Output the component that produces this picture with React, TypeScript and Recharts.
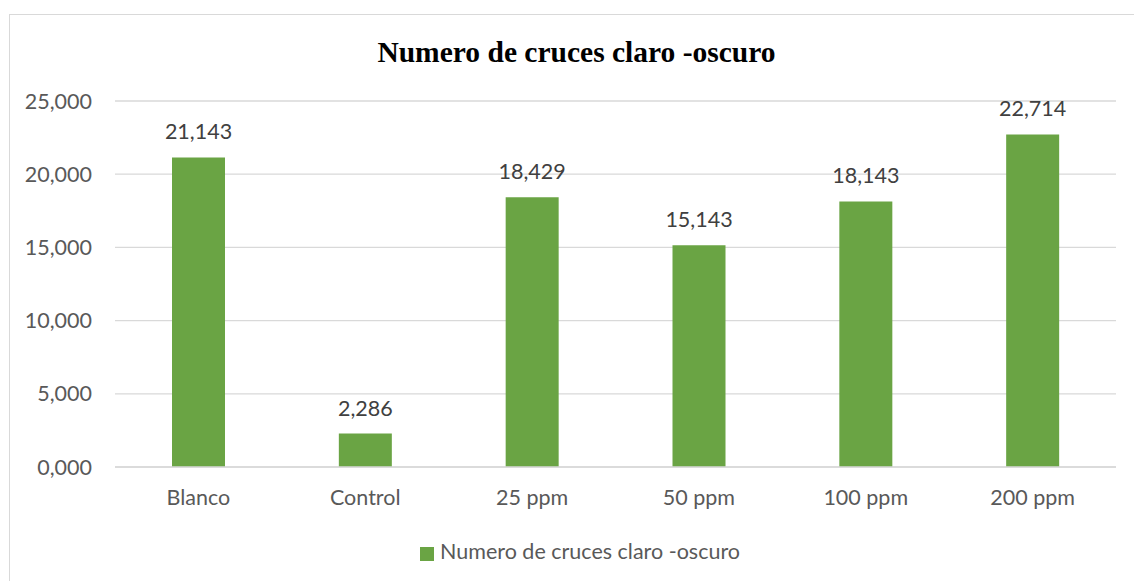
import React from 'react';
import { BarChart, Bar, XAxis, YAxis, CartesianGrid, LabelList, Legend } from 'recharts';

const categories = ['Blanco', 'Control', '25 ppm', '50 ppm', '100 ppm', '200 ppm'];
const values = [21.143, 2.286, 18.429, 15.143, 18.143, 22.714];
const yTicks = [0, 5, 10, 15, 20, 25];
const seriesName = 'Numero de cruces claro -oscuro';
const titleText = 'Numero de cruces claro -oscuro';

const data = categories.map((c, i) => ({ name: c, value: values[i] }));

const fmt = (v: number) => v.toFixed(3).replace('.', ',');

const FONT = 'Lato, "Open Sans", sans-serif';
const FS = 21.5;
const GREEN = '#6aa444';

export default function App() {
  return (
    <div style={{ position: 'absolute', left: 0, top: 0, width: 1134, height: 581, overflow: 'hidden', background: '#fff' }}>
      <div style={{ position: 'absolute', left: 9, top: 14, width: 1200, height: 700, border: '1px solid #d9d9d9' }} />
      <div
        style={{
          position: 'absolute',
          left: 276.5,
          top: 37.5,
          width: 600,
          textAlign: 'center',
          fontFamily: '"Liberation Serif", "Times New Roman", serif',
          fontWeight: 'bold',
          fontSize: 29.5,
          lineHeight: 1,
          color: '#000',
        }}
      >
        {titleText}
      </div>
      <div style={{ position: 'absolute', left: 0, top: 0 }}>
        <BarChart
          width={1134}
          height={581}
          data={data}
          margin={{ top: 101, right: 18, bottom: 58, left: 35 }}
        >
          <CartesianGrid vertical={false} stroke="#d9d9d9" strokeWidth={1.3} />
          <XAxis
            dataKey="name"
            axisLine={{ stroke: '#d9d9d9', strokeWidth: 1.3 }}
            tickLine={false}
            tickSize={0}
            tickMargin={23}
            height={30}
            tick={{ fill: '#595959', fontSize: FS, fontFamily: FONT }}
          />
          <YAxis
            domain={[0, 25]}
            ticks={yTicks}
            tickFormatter={fmt}
            axisLine={false}
            tickLine={false}
            tickSize={0}
            tickMargin={23}
            width={80}
            tick={{ fill: '#595959', fontSize: FS, fontFamily: FONT }}
          />
          <Legend
            verticalAlign="bottom"
            iconType="square"
            iconSize={14}
            wrapperStyle={{ left: 0, top: 538, width: 1170, fontFamily: FONT, fontSize: FS }}
            formatter={(v: string) => <span style={{ color: '#595959', marginLeft: 2 }}>{v}</span>}
          />
          <Bar dataKey="value" name={seriesName} fill={GREEN} barSize={53} isAnimationActive={false}>
            <LabelList
              dataKey="value"
              position="top"
              offset={18}
              formatter={(v: number) => fmt(v)}
              style={{ fill: '#404040', fontSize: FS, fontFamily: FONT }}
            />
          </Bar>
        </BarChart>
      </div>
    </div>
  );
}
